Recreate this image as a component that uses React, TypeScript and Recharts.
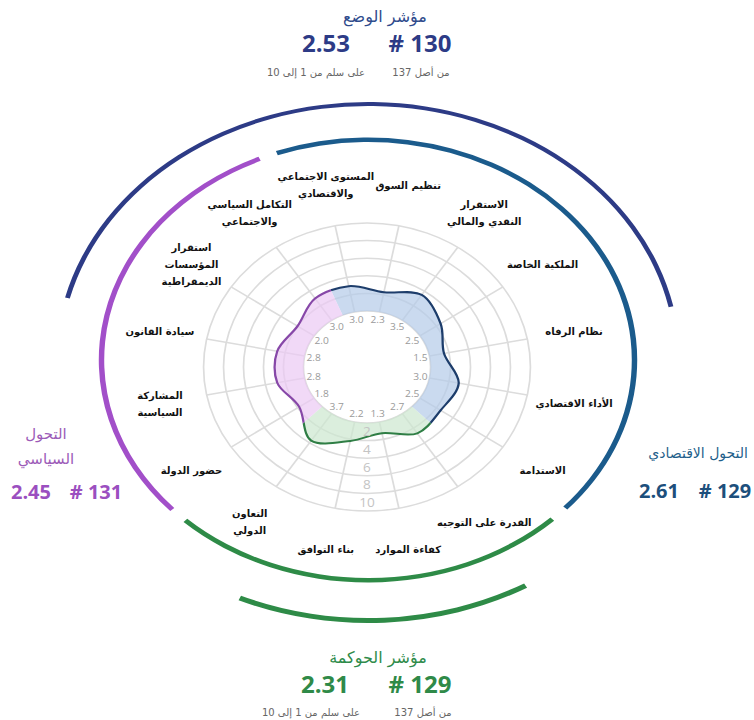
import React from "react";
import {
  RadarChart,
  Radar,
  PolarGrid,
  PolarAngleAxis,
  PolarRadiusAxis,
  PieChart,
  Pie,
  Cell,
} from "recharts";

// criteria, clockwise from the top-left spoke
const CRITERIA = [
  ["المستوى الاجتماعي", "والاقتصادي"],
  ["تنظيم السوق"],
  ["الاستقرار", "النقدي والمالي"],
  ["الملكية الخاصة"],
  ["نظام الرفاه"],
  ["الأداء الاقتصادي"],
  ["الاستدامة"],
  ["القدرة على التوجيه"],
  ["كفاءة الموارد"],
  ["بناء التوافق"],
  ["التعاون", "الدولي"],
  ["حضور الدولة"],
  ["المشاركة", "السياسية"],
  ["سيادة القانون"],
  ["استقرار", "المؤسسات", "الديمقراطية"],
  ["التكامل السياسي", "والاجتماعي"],
];
const SCORES = [3.0, 2.3, 3.5, 2.5, 1.5, 3.0, 2.5, 2.7, 1.3, 2.2, 3.7, 1.8, 2.8, 2.8, 2.0, 3.0];
const DIMENSION_OF = [
  "eco", "eco", "eco", "eco", "eco", "eco", "eco",
  "gov", "gov", "gov", "gov",
  "pol", "pol", "pol", "pol", "pol",
];
const DIMENSIONS = ["eco", "gov", "pol"];
const SCALE_TICKS = [0, 2, 4, 6, 8, 10];

const LINE = { eco: "#1d3d6b", gov: "#2f7e45", pol: "#8748a8" };
const FILL = { eco: "#b3cbe8", gov: "#cce7cf", pol: "#ebc9f4" };
const RING = { eco: "#1b5b8c", gov: "#2e8b47", pol: "#a24fc9" };
const NAVY = "#2d3b86";

const radarData = CRITERIA.map((lines, i) => ({
  name: lines.join(" "),
  score: SCORES[i],
  dim: DIMENSION_OF[i],
}));
const dimensionCounts = DIMENSIONS.map((dim) => ({
  dim,
  count: DIMENSION_OF.filter((d) => d === dim).length,
}));

// radar geometry (the reference is stretched sideways)
const RW = 500;
const RC = RW / 2;
const INNER_R = 56;
const OUTER_R = 144;
const RADAR_SX = 1.135;
// ring geometry
const AW = 620;
const AC = AW / 2;
const ARC_SX = 1.21;

const RAD = Math.PI / 180;
const AR_FONT = "'DejaVu Sans', sans-serif";
const NUM_FONT = "'Open Sans', 'DejaVu Sans', sans-serif";

// undo the sideways stretch for text so glyphs keep their width
const unstretch = (x: number, y: number) =>
  `translate(${x},${y}) scale(${1 / RADAR_SX},1) translate(${-x},${-y})`;

function CriterionTick(props: any) {
  const { x, y, payload } = props;
  const idx = radarData.findIndex((d) => d.name === payload.value);
  const lines = idx >= 0 ? CRITERIA[idx] : [String(payload.value)];
  const lh = 17;
  const y0 = y - ((lines.length - 1) * lh) / 2;
  return (
    <text
      x={x}
      y={y0}
      transform={unstretch(x, y)}
      textAnchor="middle"
      dominantBaseline="central"
      fontSize={10}
      fontWeight="bold"
      fill="#111"
      fontFamily={AR_FONT}
    >
      {lines.map((l, i) => (
        <tspan key={i} x={x} y={y0 + i * lh}>
          {l}
        </tspan>
      ))}
    </text>
  );
}

function ScaleTick(props: any) {
  const { x, y, payload } = props;
  if (!payload.value) return null;
  const half = (OUTER_R - INNER_R) / (SCALE_TICKS.length - 1) / 2;
  return (
    <text
      x={x}
      y={y - half}
      textAnchor="middle"
      dominantBaseline="central"
      fontSize={12}
      fill="#c4c4c4"
      fontFamily={NUM_FONT}
    >
      {payload.value}
    </text>
  );
}

function BandShape(props: any) {
  const pts = props.points || [];
  if (!pts.length) return null;
  const n = pts.length;
  const cx = pts[0].cx;
  const cy = pts[0].cy;
  const half = 180 / n;
  const angleOf = (p: any) => Math.atan2(cy - p.y, p.x - cx) / RAD;
  const polar = (r: number, a: number) => [cx + r * Math.cos(a * RAD), cy - r * Math.sin(a * RAD)];

  let d = `M${pts[0].x},${pts[0].y}`;
  for (let i = 0; i < n; i++) {
    const p0 = pts[(i - 1 + n) % n];
    const p1 = pts[i];
    const p2 = pts[(i + 1) % n];
    const p3 = pts[(i + 2) % n];
    const c1x = p1.x + (p2.x - p0.x) / 6;
    const c1y = p1.y + (p2.y - p0.y) / 6;
    const c2x = p2.x - (p3.x - p1.x) / 6;
    const c2y = p2.y - (p3.y - p1.y) / 6;
    d += ` C${c1x},${c1y} ${c2x},${c2y} ${p2.x},${p2.y}`;
  }
  d += " Z";
  const r = INNER_R;
  const hole = ` M${cx + r},${cy} A${r},${r} 0 1 0 ${cx - r},${cy} A${r},${r} 0 1 0 ${cx + r},${cy} Z`;

  return (
    <g>
      <defs>
        {DIMENSIONS.map((dim) => {
          const verts: number[][] = [[cx, cy]];
          pts.forEach((p: any, i: number) => {
            const pd = p.payload?.dim ?? DIMENSION_OF[i];
            if (pd !== dim) return;
            const a = angleOf(p);
            [a + half, a, a - half].forEach((b) => verts.push(polar(400, b)));
          });
          return (
            <clipPath id={`band-${dim}`} key={dim}>
              <polygon points={verts.map((v) => v.join(",")).join(" ")} />
            </clipPath>
          );
        })}
      </defs>
      {DIMENSIONS.map((dim) => (
        <g key={dim} clipPath={`url(#band-${dim})`}>
          <path d={d + hole} fill={FILL[dim]} fillOpacity={0.7} fillRule="evenodd" stroke="none" />
          <path d={d} fill="none" stroke={LINE[dim]} strokeWidth={2} />
        </g>
      ))}
      {pts.map((p: any, i: number) => {
        const [x, y] = polar(INNER_R - 8, angleOf(p));
        return (
          <text
            key={i}
            x={x}
            y={y}
            textAnchor="middle"
            dominantBaseline="central"
            fontSize={9}
            fill="#9a9a9a"
            fontFamily={NUM_FONT}
          >
            {SCORES[i].toFixed(1)}
          </text>
        );
      })}
    </g>
  );
}

export default function App() {
  return (
    <div
      style={{
        position: "absolute",
        left: 0,
        top: 0,
        width: 754,
        height: 720,
        background: "#fff",
        overflow: "hidden",
        fontFamily: AR_FONT,
      }}
    >
      {/* dimension ring and index arcs */}
      <div
        style={{
          position: "absolute",
          left: 368 - AC,
          top: 360 - AC,
          width: AW,
          height: AW,
          transform: `scaleX(${ARC_SX})`,
          transformOrigin: `${AC}px ${AC}px`,
        }}
      >
        <PieChart width={AW} height={AW} margin={{ top: 0, right: 0, bottom: 0, left: 0 }}>
          <Pie
            data={dimensionCounts}
            dataKey="count"
            nameKey="dim"
            cx={AC}
            cy={AC}
            innerRadius={218}
            outerRadius={222.5}
            startAngle={110}
            endAngle={-250}
            paddingAngle={4}
            stroke="none"
            isAnimationActive={false}
          >
            {dimensionCounts.map((d) => (
              <Cell key={d.dim} fill={RING[d.dim]} />
            ))}
          </Pie>
          <Pie
            data={[{ name: "status", value: 1 }]}
            dataKey="value"
            cx={AC}
            cy={AC}
            innerRadius={254}
            outerRadius={258}
            startAngle={166}
            endAngle={12}
            stroke="none"
            fill={NAVY}
            isAnimationActive={false}
          />
          <Pie
            data={[{ name: "governance", value: 1 }]}
            dataKey="value"
            cx={AC}
            cy={AC}
            innerRadius={258}
            outerRadius={263}
            startAngle={-60}
            endAngle={-114}
            stroke="none"
            fill={RING.gov}
            isAnimationActive={false}
          />
        </PieChart>
      </div>

      {/* radar */}
      <div
        style={{
          position: "absolute",
          left: 367 - RC,
          top: 367 - RC,
          width: RW,
          height: RW,
          transform: `scaleX(${RADAR_SX})`,
          transformOrigin: `${RC}px ${RC}px`,
        }}
      >
        <RadarChart
          width={RW}
          height={RW}
          data={radarData}
          cx={RC}
          cy={RC}
          innerRadius={INNER_R}
          outerRadius={OUTER_R}
          startAngle={101.25}
          endAngle={-258.75}
          margin={{ top: 0, right: 0, bottom: 0, left: 0 }}
        >
          <PolarGrid gridType="circle" stroke="#dcdcdc" strokeWidth={1.5} />
          <PolarAngleAxis
            dataKey="name"
            tick={(p: any) => <CriterionTick {...p} />}
            tickLine={false}
            axisLine={false}
            tickSize={42}
          />
          <PolarRadiusAxis
            angle={270}
            domain={[0, 10]}
            ticks={SCALE_TICKS}
            tickCount={6}
            axisLine={false}
            tick={(p: any) => <ScaleTick {...p} />}
          />
          <Radar dataKey="score" isAnimationActive={false} shape={(p: any) => <BandShape {...p} />} />
        </RadarChart>
      </div>

      {/* index headlines */}
      <svg width={754} height={720} style={{ position: "absolute", left: 0, top: 0 }}>
        <text x={385} y={22} textAnchor="middle" fontSize={16} fill="#2e4a8c" fontFamily={AR_FONT}>مؤشر الوضع</text>
        <text x={326} y={52} textAnchor="middle" fontSize={24} fontWeight="bold" fill={NAVY} fontFamily={NUM_FONT}>2.53</text>
        <text x={420} y={52} textAnchor="middle" fontSize={24} fontWeight="bold" fill={NAVY} fontFamily={NUM_FONT}># 130</text>
        <text x={316} y={76} textAnchor="middle" fontSize={10} fill="#666" fontFamily={AR_FONT}>على سلم من 1 إلى 10</text>
        <text x={421} y={76} textAnchor="middle" fontSize={10} fill="#666" fontFamily={AR_FONT}>من أصل 137</text>

        <text x={378} y={663} textAnchor="middle" fontSize={16} fill="#2e8b4a" fontFamily={AR_FONT}>مؤشر الحوكمة</text>
        <text x={325} y={693} textAnchor="middle" fontSize={24} fontWeight="bold" fill="#2f8a48" fontFamily={NUM_FONT}>2.31</text>
        <text x={420} y={693} textAnchor="middle" fontSize={24} fontWeight="bold" fill="#2f8a48" fontFamily={NUM_FONT}># 129</text>
        <text x={311} y={716} textAnchor="middle" fontSize={10} fill="#666" fontFamily={AR_FONT}>على سلم من 1 إلى 10</text>
        <text x={423} y={716} textAnchor="middle" fontSize={10} fill="#666" fontFamily={AR_FONT}>من أصل 137</text>

        <text x={46} y={439} textAnchor="middle" fontSize={15} fill="#9c5bb8" fontFamily={AR_FONT}>التحول</text>
        <text x={46} y={464} textAnchor="middle" fontSize={15} fill="#9c5bb8" fontFamily={AR_FONT}>السياسي</text>
        <text x={31} y={499} textAnchor="middle" fontSize={20} fontWeight="bold" fill="#9b4fc0" fontFamily={NUM_FONT}>2.45</text>
        <text x={96} y={499} textAnchor="middle" fontSize={20} fontWeight="bold" fill="#9b4fc0" fontFamily={NUM_FONT}># 131</text>

        <text x={748} y={458} textAnchor="end" fontSize={14} fill="#1f5f8b" fontFamily={AR_FONT}>التحول الاقتصادي</text>
        <text x={659} y={498} textAnchor="middle" fontSize={20} fontWeight="bold" fill="#1d4f7c" fontFamily={NUM_FONT}>2.61</text>
        <text x={725} y={498} textAnchor="middle" fontSize={20} fontWeight="bold" fill="#1d4f7c" fontFamily={NUM_FONT}># 129</text>
      </svg>
    </div>
  );
}
